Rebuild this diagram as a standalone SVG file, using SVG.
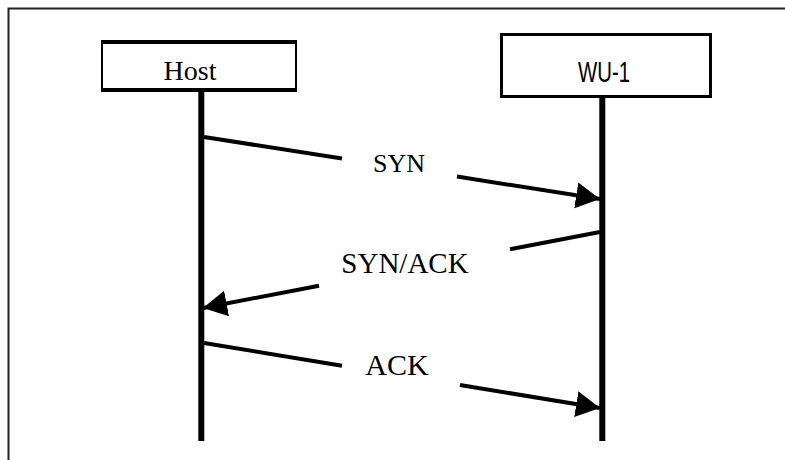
<svg xmlns="http://www.w3.org/2000/svg" width="785" height="460" viewBox="0 0 785 460">
<style>
.serif{font-family:"Liberation Serif","Times New Roman",serif;fill:#000;text-anchor:middle}
.sans{font-family:"Liberation Sans",Arial,sans-serif;fill:#000;text-anchor:middle}
.life{stroke:#000;stroke-width:6;fill:none}
.msg{stroke:#000;stroke-width:4;fill:none;stroke-linecap:butt}
</style>
<defs>
<marker id="arrow" markerUnits="userSpaceOnUse" markerWidth="26" markerHeight="28" refX="24" refY="13" orient="auto" viewBox="0 0 26 28">
<path d="M0,0 L24,13 L0,26 Z" fill="#000"/>
</marker>
</defs>
<rect width="785" height="460" fill="#fff"/>
<path d="M8.5,460 V8.5 H785" fill="none" stroke="#222" stroke-width="2"/>
<g id="host">
<rect x="102" y="41" width="194" height="50" fill="#fff" stroke="#000" stroke-width="2"/>
<line x1="101" y1="42" x2="297" y2="42" stroke="#000" stroke-width="4"/>
<line x1="101" y1="90" x2="297" y2="90" stroke="#000" stroke-width="4"/>
<text class="serif" x="190" y="80" font-size="28">Host</text>
<line class="life" x1="201.3" y1="92" x2="201.3" y2="441"/>
</g>
<g id="wu1">
<rect x="501.5" y="34.5" width="209" height="62" fill="#fff" stroke="#000" stroke-width="3"/>
<text class="sans" x="604" y="82" font-size="30" textLength="52" lengthAdjust="spacingAndGlyphs">WU-1</text>
<line class="life" x1="602.3" y1="98" x2="602.3" y2="441"/>
</g>
<g id="connectors">
<line class="msg" x1="204" y1="137" x2="342" y2="158.6"/>
<line class="msg" x1="457" y1="176.6" x2="600" y2="199" marker-end="url(#arrow)"/>
<line class="msg" x1="600" y1="232" x2="510" y2="249.2"/>
<line class="msg" x1="319" y1="285.7" x2="203" y2="308" marker-end="url(#arrow)"/>
<line class="msg" x1="204" y1="343" x2="342" y2="365.8"/>
<line class="msg" x1="460" y1="385" x2="600" y2="408" marker-end="url(#arrow)"/>
</g>
<g id="labels">
<text class="serif" x="399" y="172" font-size="26">SYN</text>
<text class="serif" x="405" y="273" font-size="29">SYN/ACK</text>
<text class="serif" x="397" y="375" font-size="30">ACK</text>
</g>
</svg>
